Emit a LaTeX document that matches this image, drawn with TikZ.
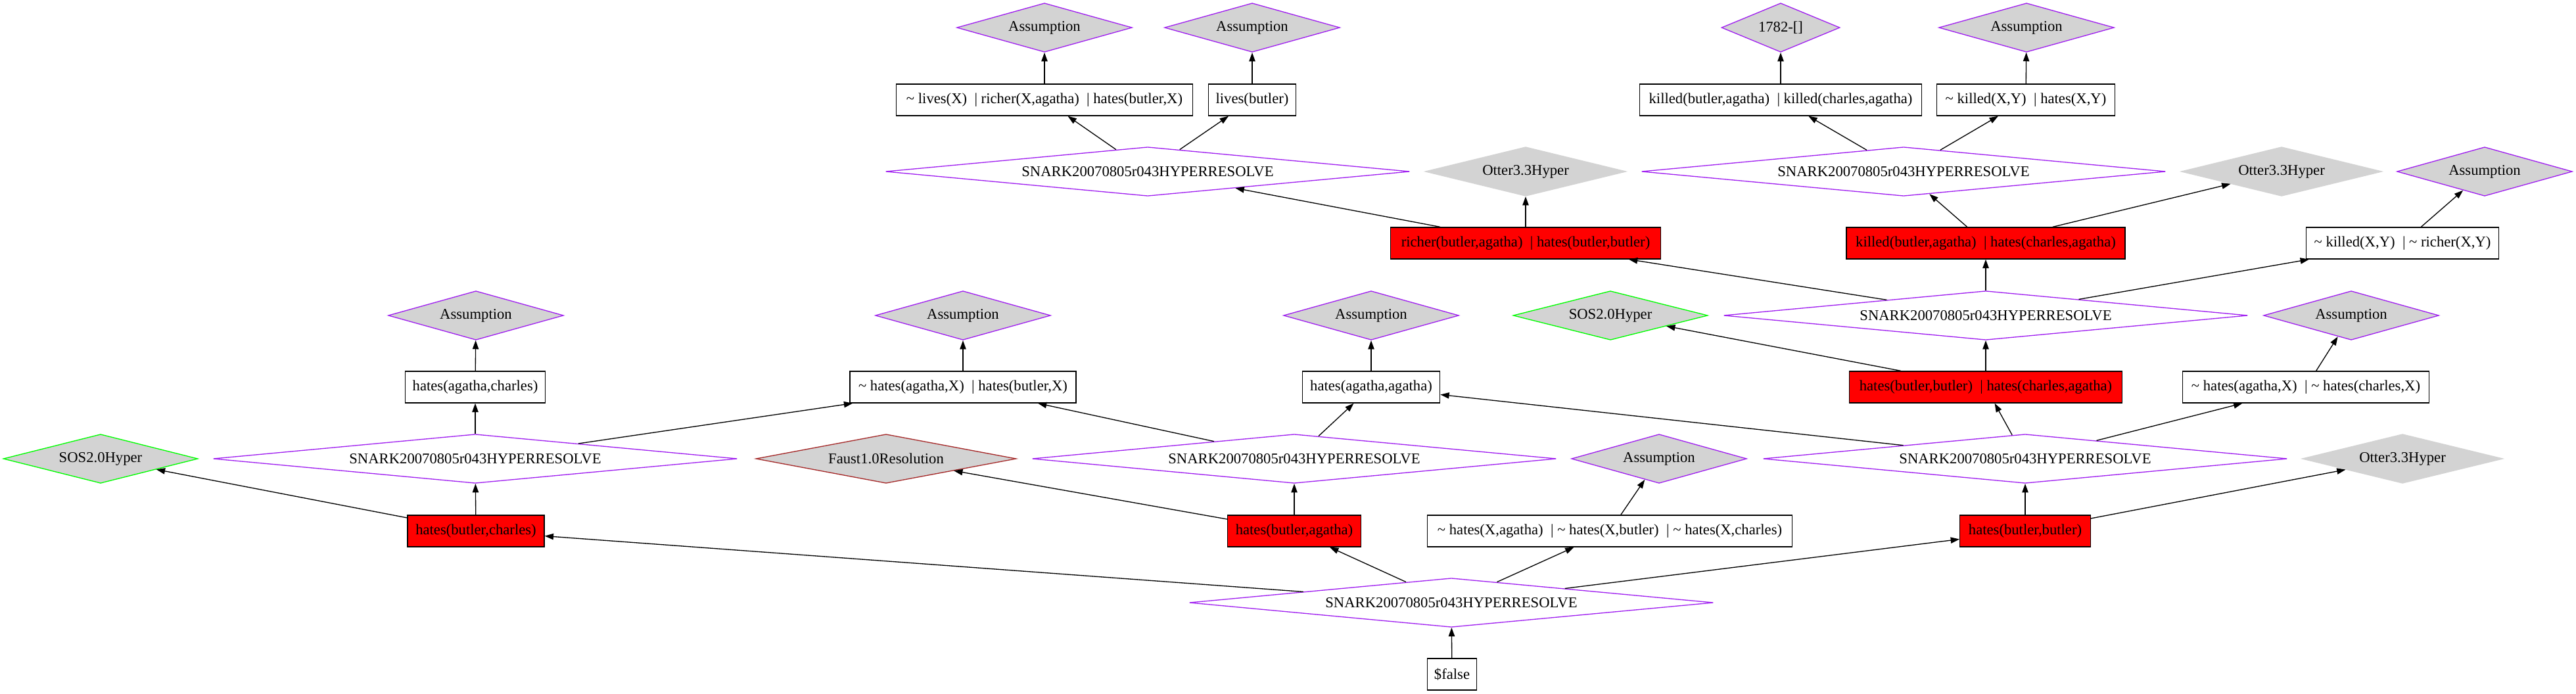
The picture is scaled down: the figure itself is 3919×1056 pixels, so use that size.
\documentclass[tikz,border=0pt]{standalone}
\usepackage{fontspec}
\setmainfont{Liberation Serif}
\usetikzlibrary{shapes.geometric,arrows.meta}
\definecolor{gvpurple}{HTML}{A020F0}
\definecolor{gvgreen}{HTML}{00FF00}
\definecolor{gvbrown}{HTML}{A52A2A}
\definecolor{gvgray}{HTML}{D3D3D3}
\definecolor{gvred}{HTML}{FF0000}
\newcommand{\tld}{\textasciitilde\ }
\newcommand{\orsep}{\ \ |\ }

\begin{document}
\begin{tikzpicture}[x=0.75pt,y=-0.75pt,font=\fontsize{17}{20}\selectfont,line width=1pt,
    dia/.style={diamond,inner sep=0pt,minimum height=56pt},
    snark/.style={dia,draw=gvpurple,fill=white,minimum width=598pt,aspect=10},
    assume/.style={dia,draw=gvpurple,fill=gvgray,minimum width=200pt,aspect=3.6},
    otter/.style={dia,draw=gvgray,fill=gvgray,minimum width=229pt,aspect=4},
    sos/.style={dia,draw=gvgreen,fill=gvgray,minimum width=222pt,aspect=4},
    faust/.style={dia,draw=gvbrown,fill=gvgray,minimum width=297pt,aspect=5},
    clause/.style={rectangle,draw,fill=white,minimum height=36pt,inner xsep=4pt},
    used/.style={clause,fill=gvred},
    >={Triangle[length=10pt,width=7pt]}]
  \useasboundingbox (0,0) rectangle (3919,1056);
  % top row
  \node[assume] (a1) at (1589,42) {Assumption};
  \node[assume] (a2) at (1905,42) {Assumption};
  \node[assume,minimum width=135pt,aspect=2.4] (q1) at (2709,42) {1782-[]};
  \node[assume] (a3) at (3083,42) {Assumption};
  \node[clause,minimum width=338pt] (c1) at (1589,152) {\tld lives(X)\orsep richer(X,agatha)\orsep hates(butler,X)};
  \node[clause,minimum width=100pt] (c2) at (1905,152) {lives(butler)};
  \node[clause,minimum width=322pt] (c3) at (2709,152) {killed(butler,agatha)\orsep killed(charles,agatha)};
  \node[clause,minimum width=203pt] (c4) at (3082,152) {\tld killed(X,Y)\orsep hates(X,Y)};
  \node[snark] (s1) at (1746,261) {SNARK20070805r043HYPERRESOLVE};
  \node[otter] (o1) at (2321,261) {Otter3.3Hyper};
  \node[snark] (s2) at (2896,261) {SNARK20070805r043HYPERRESOLVE};
  \node[otter] (o2) at (3471,261) {Otter3.3Hyper};
  \node[assume] (a4) at (3780,261) {Assumption};
  \node[used,minimum width=308pt] (r1) at (2321,370) {richer(butler,agatha)\orsep hates(butler,butler)};
  \node[used,minimum width=318pt] (r2) at (3021,370) {killed(butler,agatha)\orsep hates(charles,agatha)};
  \node[clause,minimum width=220pt] (c5) at (3655,370) {\tld killed(X,Y)\orsep \tld richer(X,Y)};
  % middle
  \node[assume] (a7) at (724,480) {Assumption};
  \node[assume] (a8) at (1465,480) {Assumption};
  \node[assume] (a9) at (2086,480) {Assumption};
  \node[sos] (g1) at (2450,480) {SOS2.0Hyper};
  \node[snark] (s3) at (3021,480) {SNARK20070805r043HYPERRESOLVE};
  \node[assume] (a5) at (3577,480) {Assumption};
  \node[clause,minimum width=160pt] (c6) at (723,589) {hates(agatha,charles)};
  \node[clause,minimum width=258pt] (c7) at (1465,589) {\tld hates(agatha,X)\orsep hates(butler,X)};
  \node[clause,minimum width=157pt] (c8) at (2086,589) {hates(agatha,agatha)};
  \node[used,minimum width=311pt] (r3) at (3021,589) {hates(butler,butler)\orsep hates(charles,agatha)};
  \node[clause,minimum width=281pt] (c9) at (3508,589) {\tld hates(agatha,X)\orsep \tld hates(charles,X)};
  \node[sos] (g2) at (153,698) {SOS2.0Hyper};
  \node[snark] (s6) at (723,698) {SNARK20070805r043HYPERRESOLVE};
  \node[faust] (f1) at (1348,698) {Faust1.0Resolution};
  \node[snark] (s7) at (1969,698) {SNARK20070805r043HYPERRESOLVE};
  \node[assume] (a6) at (2524,698) {Assumption};
  \node[snark] (s4) at (3081,698) {SNARK20070805r043HYPERRESOLVE};
  \node[otter] (o3) at (3655,698) {Otter3.3Hyper};
  % bottom
  \node[used,minimum width=156pt] (r6) at (724,808) {hates(butler,charles)};
  \node[used,minimum width=152pt] (r5) at (1969,808) {hates(butler,agatha)};
  \node[clause,minimum width=416pt] (c10) at (2449,808) {\tld hates(X,agatha)\orsep \tld hates(X,butler)\orsep \tld hates(X,charles)};
  \node[used,minimum width=149pt] (r4) at (3081,808) {hates(butler,butler)};
  \node[snark] (s5) at (2208,917) {SNARK20070805r043HYPERRESOLVE};
  \node[clause,minimum width=56pt] (f) at (2209,1026) {\$false};
  \foreach \p/\q in {f/s5,s5/r6,s5/r5,s5/c10,s5/r4,r6/s6,r6/g2,s6/c6,s6/c7,c6/a7,
      r5/s7,r5/f1,s7/c7,s7/c8,c7/a8,c8/a9,c10/a6,r4/s4,r4/o3,s4/c8,s4/r3,s4/c9,c9/a5,
      r3/s3,r3/g1,s3/r1,s3/r2,s3/c5,c5/a4,r2/s2,r2/o2,s2/c3,s2/c4,c3/q1,c4/a3,
      r1/s1,r1/o1,s1/c1,s1/c2,c1/a1,c2/a2}
    \draw[->] (\p) -- (\q);
\end{tikzpicture}
\end{document}
